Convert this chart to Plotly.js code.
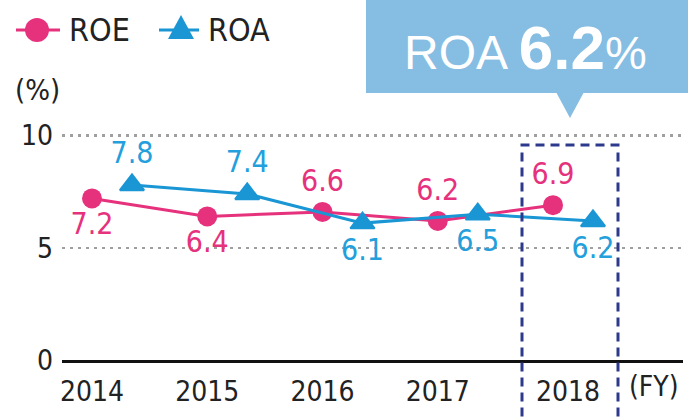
<!DOCTYPE html>
<html>
<head>
<meta charset="utf-8">
<script src="https://cdn.plot.ly/plotly-3.0.1.min.js"></script>
<style>html,body{margin:0;padding:0;background:#fff;}#chart{width:696px;height:419px;}</style>
</head>
<body>
<div id="chart"></div>
<script>
// ---- data ----
const years = [2014, 2015, 2016, 2017, 2018];
const yearLabels = ['2014', '2015', '2016', '2017', '2018'];
const roe = [7.2, 6.4, 6.6, 6.2, 6.9];
const roa = [7.8, 7.4, 6.1, 6.5, 6.2];
const roeLabelPos = ['bottom center', 'bottom center', 'top center', 'top center', 'top center'];
const roaLabelPos = ['top center', 'top center', 'bottom center', 'bottom center', 'bottom center'];
const highlightValue = '6.2';

// ---- style ----
const PINK = '#e6317c';
const BLUE = '#1a96d4';
const BLUE_TXT = '#23a0dc';
const NAVY = '#2d3a8c';
const CALLOUT = '#86bde3';
const NARROW = "'Liberation Sans Narrow', 'DejaVu Sans Condensed', 'Arial Narrow', Roboto, sans-serif";
const SANS = "'Liberation Sans', Arial, 'Noto Sans', sans-serif";

const L = 62, R = 13, T = 130, B = 59, W = 696, H = 419;
const pw = W - L - R, ph = H - T - B;
const PX = p => (p - L) / pw;
const PY = p => (H - B - p) / ph;
const roaShift = 0.347;
// the last year's label sits centred in the highlight box
const tickPositions = years.map((y, i) => i === years.length - 1 ? y + 0.13 : y);

const traces = [
  {
    x: years, y: roe, name: 'ROE', type: 'scatter', mode: 'lines+markers+text',
    line: {color: PINK, width: 3},
    marker: {symbol: 'circle', size: 20, color: PINK},
    text: roe.map(v => v.toFixed(1)), textposition: roeLabelPos,
    textfont: {family: NARROW, size: 30, color: PINK},
    cliponaxis: false, hoverinfo: 'skip'
  },
  {
    x: years.map(y => y + roaShift), y: roa, name: 'ROA', type: 'scatter', mode: 'lines+markers+text',
    line: {color: BLUE, width: 3},
    marker: {symbol: 'triangle-up', size: 21, color: BLUE, line: {color: BLUE, width: 2}},
    text: roa.map(v => v.toFixed(1)), textposition: roaLabelPos,
    textfont: {family: NARROW, size: 30, color: BLUE_TXT},
    cliponaxis: false, hoverinfo: 'skip'
  }
];

const shapes = [
  // highlighted year box
  {type: 'rect', xref: 'x', yref: 'paper', x0: 2017.731, x1: 2018.564, y0: -0.35, y1: PY(145),
   line: {color: NAVY, width: 3, dash: '9px,6px'}, fillcolor: 'rgba(0,0,0,0)', layer: 'above'},
  // callout box
  {type: 'rect', xref: 'paper', yref: 'paper', x0: PX(366), x1: PX(688), y0: PY(93), y1: PY(-5),
   line: {width: 0}, fillcolor: CALLOUT},
  {type: 'path', xref: 'paper', yref: 'paper',
   path: `M${PX(556)},${PY(92)} L${PX(584)},${PY(92)} L${PX(570)},${PY(118)} Z`,
   line: {width: 0}, fillcolor: CALLOUT},
  // legend ROE
  {type: 'line', xref: 'paper', yref: 'paper', x0: PX(16), x1: PX(60), y0: PY(30), y1: PY(30),
   line: {color: PINK, width: 3}},
  {type: 'circle', xref: 'paper', yref: 'paper', x0: PX(25), x1: PX(49), y0: PY(42), y1: PY(18),
   line: {width: 0}, fillcolor: PINK},
  // legend ROA
  {type: 'line', xref: 'paper', yref: 'paper', x0: PX(159), x1: PX(199), y0: PY(30), y1: PY(30),
   line: {color: BLUE, width: 3}},
  {type: 'path', xref: 'paper', yref: 'paper',
   path: `M${PX(168)},${PY(39)} L${PX(194)},${PY(39)} L${PX(181)},${PY(15)} Z`,
   line: {width: 0}, fillcolor: BLUE}
];

const annotations = [
  {text: 'ROE', xref: 'paper', yref: 'paper', x: PX(67), y: PY(30), xanchor: 'left', yanchor: 'middle',
   showarrow: false, font: {family: NARROW, size: 32, color: '#222'}},
  {text: 'ROA', xref: 'paper', yref: 'paper', x: PX(206), y: PY(30), xanchor: 'left', yanchor: 'middle',
   showarrow: false, font: {family: NARROW, size: 32, color: '#222'}},
  {text: '(%)', xref: 'paper', yref: 'paper', x: PX(37), y: PY(90), xanchor: 'center', yanchor: 'middle',
   showarrow: false, font: {family: NARROW, size: 29, color: '#222'}},
  {text: '(FY)', xref: 'paper', yref: 'paper', x: PX(654), y: PY(386), xanchor: 'center', yanchor: 'middle',
   showarrow: false, font: {family: NARROW, size: 28, color: '#222'}},
  {text: "ROA <span style='font-size:62px;font-weight:bold'>" + highlightValue + "</span><span style='font-size:47px'>%</span>",
   xref: 'paper', yref: 'paper', x: PX(525), y: PY(47), xanchor: 'center', yanchor: 'middle',
   showarrow: false, font: {family: SANS, size: 48, color: '#ffffff'}}
];

const layout = {
  width: W, height: H,
  margin: {l: L, r: R, t: T, b: B, pad: 0},
  paper_bgcolor: '#fff', plot_bgcolor: '#fff',
  showlegend: false,
  xaxis: {
    range: [2013.7397, 2013.7397 + pw / 115.25],
    tickvals: tickPositions, ticktext: yearLabels,
    showgrid: false, zeroline: false,
    showline: true, linecolor: '#111', linewidth: 3,
    ticks: '', ticklabelstandoff: 4,
    tickfont: {family: NARROW, size: 28, color: '#222'},
    fixedrange: true
  },
  yaxis: {
    range: [0, 10.25],
    tickvals: [0, 5, 10], ticktext: ['0', '5', '10'],
    showgrid: true, gridcolor: '#a0a0a0', gridwidth: 2.5, griddash: '3px,5px',
    zeroline: false, showline: false,
    ticks: '', ticklabelstandoff: 8,
    tickfont: {family: NARROW, size: 28, color: '#222'},
    fixedrange: true
  },
  shapes: shapes,
  annotations: annotations
};

Plotly.newPlot('chart', traces, layout, {displayModeBar: false, staticPlot: true});
</script>
</body>
</html>
